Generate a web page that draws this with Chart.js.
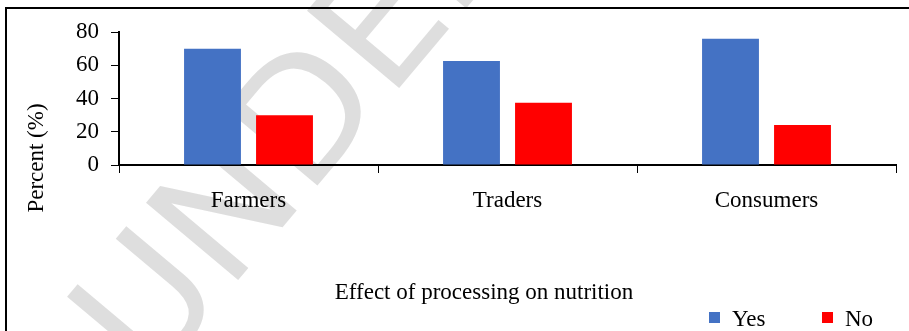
<!DOCTYPE html>
<html>
<head>
<meta charset="utf-8">
<script src="https://cdn.jsdelivr.net/npm/chart.js@4/dist/chart.umd.min.js"></script>
<style>
  html, body { margin: 0; padding: 0; background: #fff; }
  #chart { display: block; }
</style>
</head>
<body>
<canvas id="chart" width="909" height="331"></canvas>
<script>
const categories = ['Farmers', 'Traders', 'Consumers'];
const yesValues = [70, 62.5, 76];
const noValues = [30, 37.5, 24];
const yTicks = [0, 20, 40, 60, 80];
const xTitle = 'Effect of processing on nutrition';
const yTitle = 'Percent (%)';
const watermark = 'UNDER PEER REVIEW';

const serif = "'Liberation Serif', 'Times New Roman', serif";

// watermark, frame, axis titles and legend
const decor = {
  id: 'decor',
  beforeDraw(c) {
    const ctx = c.ctx;
    ctx.save();
    ctx.translate(150, 385);
    ctx.rotate(-50 * Math.PI / 180);
    ctx.font = "165px 'DejaVu Sans'";
    ctx.fillStyle = 'rgba(200,200,200,0.6)';
    ctx.fillText(watermark, 0, 0);
    ctx.restore();
  },
  afterDraw(c) {
    const ctx = c.ctx;
    ctx.save();
    ctx.fillStyle = '#000';
    ctx.fillRect(5, 7, 909, 2);
    ctx.fillRect(5, 7, 2, 331);

    ctx.font = '23px ' + serif;
    ctx.textAlign = 'center';
    ctx.textBaseline = 'middle';
    ctx.fillText(xTitle, 484, 293);

    ctx.save();
    ctx.translate(37, 158);
    ctx.rotate(-Math.PI / 2);
    ctx.fillText(yTitle, 0, 0);
    ctx.restore();

    // legend
    const boxX = [709, 822];
    c.data.datasets.forEach((d, i) => {
      const x = boxX[i];
      ctx.fillStyle = d.backgroundColor;
      ctx.fillRect(x, 312, 11, 11);
      ctx.fillStyle = '#000';
      ctx.textAlign = 'left';
      ctx.fillText(d.label, x + 23, 320);
    });
    ctx.restore();
  }
};

new Chart(document.getElementById('chart'), {
  type: 'bar',
  data: {
    labels: categories,
    datasets: [
      { label: 'Yes', data: yesValues, backgroundColor: '#4472C4' },
      { label: 'No', data: noValues, backgroundColor: '#FF0000' }
    ]
  },
  options: {
    responsive: false,
    animation: false,
    layout: { padding: { left: 0, top: 32, right: 13, bottom: 0 } },
    datasets: { bar: { categoryPercentage: 0.556, barPercentage: 0.79 } },
    plugins: { legend: { display: false }, tooltip: { enabled: false } },
    scales: {
      x: {
        afterFit(s) { s.height = 166; },
        grid: { drawOnChartArea: false, drawTicks: true, tickLength: 8, color: '#000', lineWidth: 1 },
        border: { color: '#000', width: 2 },
        ticks: { color: '#000', font: { family: serif, size: 23 }, padding: 14 }
      },
      y: {
        min: 0,
        max: 80,
        afterFit(s) { s.width = 119; },
        afterBuildTicks(s) { s.ticks = yTicks.map(v => ({ value: v })); },
        grid: { drawOnChartArea: false, drawTicks: true, tickLength: 8, color: '#000', lineWidth: 1 },
        border: { color: '#000', width: 2 },
        ticks: { color: '#000', font: { family: serif, size: 23 }, padding: 12 }
      }
    }
  },
  plugins: [decor]
});
</script>
</body>
</html>
